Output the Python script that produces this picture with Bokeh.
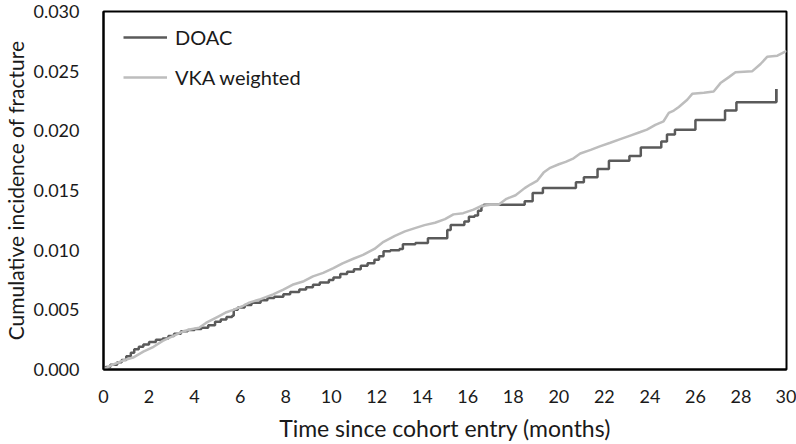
from bokeh.plotting import figure
from bokeh.models import FixedTicker, NumeralTickFormatter, Legend, LegendItem, Range1d
from bokeh.embed import file_html
from bokeh.resources import INLINE

# DOAC step function: time of each step (months) and cumulative incidence after it
doac_t = [0, 0.1, 0.3, 0.6, 0.8, 1.0, 1.2, 1.35, 1.55, 1.75, 2.0, 2.3, 2.6, 2.85, 3.1, 3.4,
          3.7, 4.0, 4.3, 4.6, 4.9, 5.15, 5.4, 5.65, 5.72, 5.9, 6.2, 6.5, 6.9, 7.2, 7.5, 7.9,
          8.2, 8.6, 8.9, 9.2, 9.5, 9.9, 10.1, 10.4, 10.7, 11.0, 11.3, 11.6, 11.9, 12.1, 12.3,
          12.6, 13.0, 13.15, 13.7, 14.25, 15.1, 15.25, 15.85, 16.05, 16.3, 16.45, 16.6, 16.7,
          18.5, 18.85, 19.3, 20.75, 21.1, 21.7, 22.2, 23.1, 23.6, 24.5, 24.75, 25.1, 26.0,
          27.3, 27.8, 29.55]
doac_v = [0, 0.0002, 0.0004, 0.0006, 0.0008, 0.0011, 0.0014, 0.0017, 0.0019, 0.0021, 0.0023,
          0.0025, 0.0026, 0.0028, 0.0030, 0.0032, 0.0033, 0.0034, 0.0035, 0.0037, 0.0040,
          0.0042, 0.0044, 0.0045, 0.0050, 0.0052, 0.0054, 0.0056, 0.0058, 0.0060, 0.0061,
          0.0063, 0.0065, 0.0067, 0.0069, 0.0071, 0.0073, 0.0075, 0.0077, 0.0080, 0.0082,
          0.0084, 0.0087, 0.0089, 0.0092, 0.0095, 0.0099, 0.0100, 0.0101, 0.0105, 0.0106,
          0.0110, 0.0117, 0.0121, 0.0124, 0.0128, 0.0129, 0.0133, 0.0137, 0.0138, 0.0141,
          0.0148, 0.0152, 0.0157, 0.0161, 0.0168, 0.0175, 0.0179, 0.0186, 0.0191, 0.0197,
          0.0201, 0.0209, 0.0217, 0.0224, 0.0235]
# vertical end of DOAC curve
doac_end_t = [29.55, 29.55]
doac_end_v = [0.0224, 0.0235]

# VKA weighted curve
vka_t = [0, 0.4, 0.85, 1.3, 1.75, 2.2, 2.6, 3.05, 3.5, 3.9, 4.2, 4.5, 4.8, 5.1, 5.4, 5.7,
         6.1, 6.4, 6.9, 7.45, 7.9, 8.3, 8.8, 9.2, 9.65, 10.1, 10.5, 11.0, 11.4, 11.9, 12.3,
         12.8, 13.24, 13.68, 14.1, 14.56, 15.0, 15.37, 15.8, 16.25, 16.6, 17.0, 17.35, 17.7,
         18.1, 18.5, 18.75, 19.04, 19.33, 19.62, 20.0, 20.3, 20.65, 20.94, 21.4, 21.8, 22.26,
         22.7, 23.14, 23.58, 23.87, 24.24, 24.6, 24.83, 25.05, 25.27, 25.64, 25.86, 26.37,
         26.8, 27.1, 27.47, 27.76, 28.5, 28.86, 29.15, 29.6, 29.9, 30.0]
vka_v = [0, 0.0004, 0.00075, 0.0010, 0.0015, 0.0019, 0.0024, 0.0028, 0.0032, 0.0034, 0.0035,
         0.0039, 0.0042, 0.0045, 0.0048, 0.0050, 0.0053, 0.0056, 0.0059, 0.0063, 0.0067,
         0.0071, 0.0074, 0.0078, 0.0081, 0.0085, 0.0089, 0.0093, 0.0096, 0.0101, 0.0107,
         0.0112, 0.01157, 0.01185, 0.0121, 0.0123, 0.0126, 0.0130, 0.0131, 0.0134, 0.0137,
         0.0138, 0.0138, 0.0143, 0.0146, 0.0152, 0.0155, 0.0158, 0.0165, 0.0169, 0.0172,
         0.0174, 0.0177, 0.0181, 0.0184, 0.0187, 0.0190, 0.0193, 0.0196, 0.0199, 0.0201,
         0.0205, 0.0208, 0.0215, 0.0217, 0.0220, 0.0226, 0.0231, 0.0232, 0.0233, 0.0240,
         0.0245, 0.0249, 0.0250, 0.0256, 0.0262, 0.0263, 0.0266, 0.0267]

x_ticks = list(range(0, 31, 2))
y_ticks = [0.0, 0.005, 0.010, 0.015, 0.020, 0.025, 0.030]
x_title = "Time since cohort entry (months)"
y_title = "Cumulative incidence of fracture"
series_names = ["DOAC", "VKA weighted"]

FONT = "Lato"
TEXT = "#1a1a1a"
DOAC_COLOR = "#5a5a5a"
VKA_COLOR = "#bdbdbd"

p = figure(width=796, height=444, output_backend="svg", toolbar_location=None,
           x_range=Range1d(0, 30), y_range=Range1d(0, 0.030),
           min_border_left=103, min_border_right=10, min_border_top=11, min_border_bottom=75)
p.background_fill_color = "white"
p.border_fill_color = "white"
p.outline_line_color = "#000000"
p.outline_line_width = 2
p.xgrid.grid_line_color = None
p.ygrid.grid_line_color = None

r_doac = p.step(doac_t, doac_v, mode="after", line_color=DOAC_COLOR, line_width=2.5)
p.line(doac_end_t, doac_end_v, line_color=DOAC_COLOR, line_width=2.5)
r_vka = p.line(vka_t, vka_v, line_color=VKA_COLOR, line_width=2.5)

for ax in (p.xaxis[0], p.yaxis[0]):
    ax.axis_line_color = "#000000"
    ax.axis_line_width = 2
    ax.major_tick_line_color = None
    ax.minor_tick_line_color = None
    ax.major_tick_out = 0
    ax.major_tick_in = 0
    ax.minor_tick_out = 0
    ax.minor_tick_in = 0
    ax.major_label_text_font = FONT
    ax.major_label_text_font_size = "18px"
    ax.major_label_text_color = TEXT
    ax.axis_label_text_font = FONT
    ax.axis_label_text_font_style = "normal"
    ax.axis_label_text_color = TEXT

p.xaxis.ticker = FixedTicker(ticks=x_ticks)
p.yaxis.ticker = FixedTicker(ticks=y_ticks)
p.yaxis.formatter = NumeralTickFormatter(format="0.000")
p.xaxis.axis_label = x_title
p.yaxis.axis_label = y_title
p.xaxis.axis_label_text_font_size = "23px"
p.yaxis.axis_label_text_font_size = "21px"
p.xaxis.major_label_standoff = 20
p.xaxis.axis_label_standoff = 8
p.yaxis.major_label_standoff = 24
p.yaxis.axis_label_standoff = 2

legend = Legend(items=[LegendItem(label=series_names[0], renderers=[r_doac]),
                       LegendItem(label=series_names[1], renderers=[r_vka])],
                location=(20, 280))
legend.label_text_font = FONT
legend.label_text_font_size = "20px"
legend.label_text_color = TEXT
legend.glyph_width = 44
legend.glyph_height = 24
legend.label_height = 24
legend.spacing = 16
legend.label_standoff = 8
legend.margin = 0
legend.padding = 0
legend.border_line_color = None
legend.background_fill_alpha = 0
p.add_layout(legend)

open("out.html", "w").write(file_html(p, INLINE))
